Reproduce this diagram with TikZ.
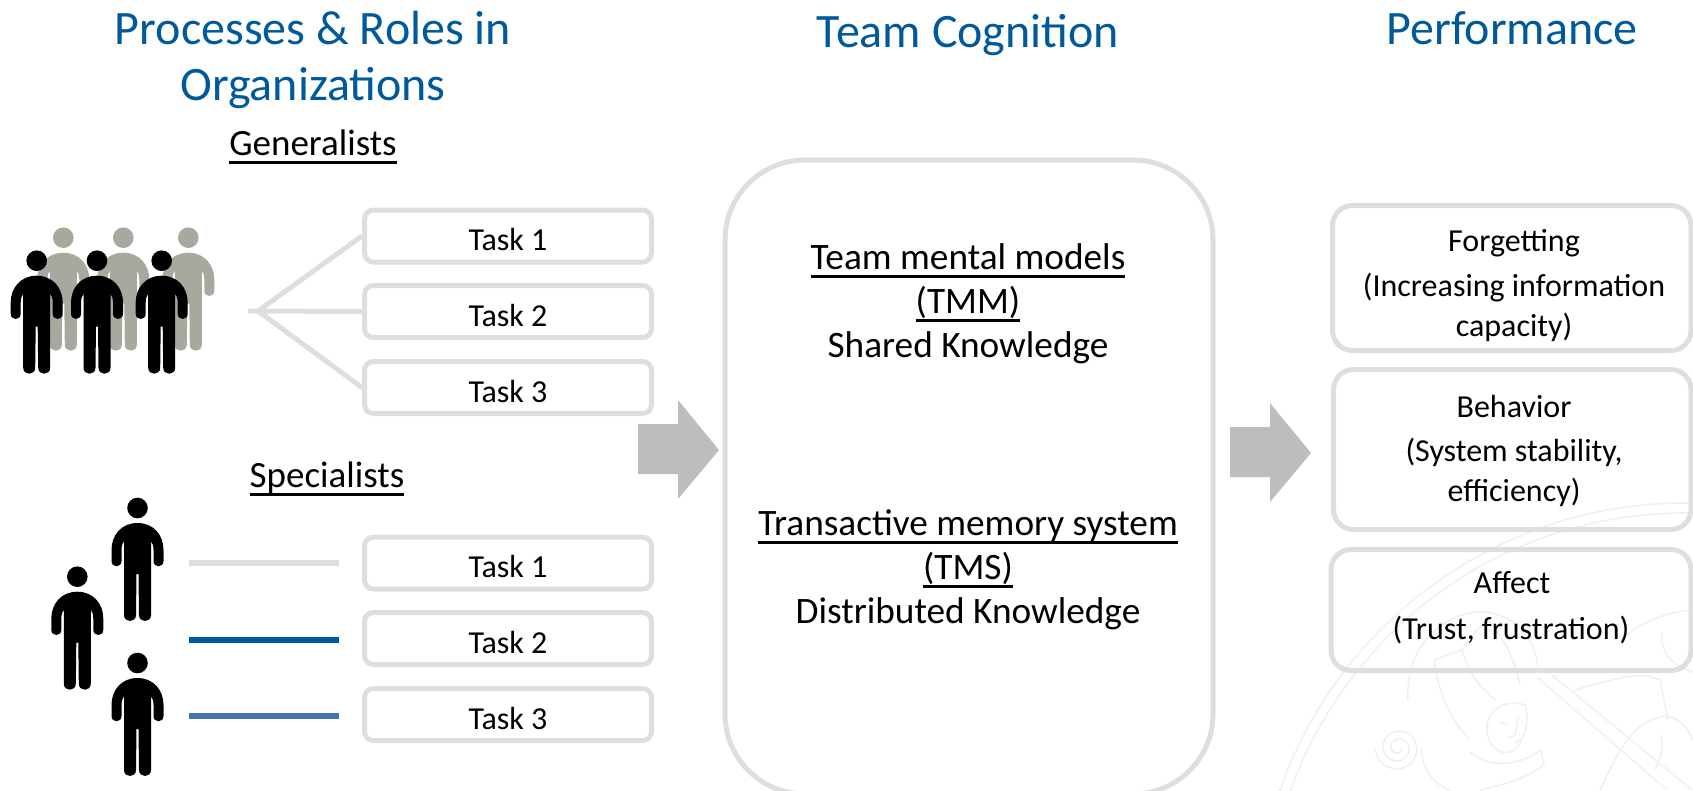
\documentclass[tikz,border=0pt]{standalone}
\usepackage{fontspec}
\setmainfont{Carlito}
\definecolor{uniblue}{HTML}{00599B}
\definecolor{midblue}{HTML}{4674AE}
\definecolor{boxgray}{HTML}{DEDEDE}
\definecolor{arrowgray}{HTML}{BDBDBD}
\definecolor{persongray}{HTML}{A9A89F}
\definecolor{seal}{HTML}{F0F0F0}
\newcommand{\ulx}[1]{\setbox0\hbox{#1}\rlap{\rule[-8pt]{\wd0}{2.5pt}}\box0}
\tikzset{
  title/.style={font=\fontsize{48}{58}\selectfont,text=uniblue,align=center,inner sep=0pt},
  taskbox/.style={draw=boxgray,line width=5pt,rounded corners=9pt,minimum width=287pt,minimum height=52pt,font=\fontsize{32}{38}\selectfont,inner sep=0pt,text height=29pt,text depth=0pt},
  sidebox/.style={draw=boxgray,line width=5pt,rounded corners=20pt},
  body/.style={font=\fontsize{32}{40}\selectfont,align=center,inner sep=0pt},
  head/.style={font=\fontsize{37}{44}\selectfont,align=center,inner sep=0pt},
  midtext/.style={font=\fontsize{37.3}{44}\selectfont,align=center,inner sep=0pt},
  link/.style={draw=boxgray,line width=5pt},
  bar/.style={line width=6pt},
  person/.pic={
    \fill (0,0) circle (10.3);
    \fill (0,15) .. controls (16,15) and (26,27) .. (26,42) -- (26,53)
      .. controls (26,60) and (16,60) .. (16,53) -- (16,42)
      .. controls (16,38) and (15,35) .. (13.5,33)
      -- (13.5,107) .. controls (13.5,115) and (1.5,115) .. (1.5,107) -- (1,66) -- (-1,66) -- (-1.5,107)
      .. controls (-1.5,115) and (-13.5,115) .. (-13.5,107) -- (-13.5,33)
      .. controls (-15,35) and (-16,38) .. (-16,42) -- (-16,53)
      .. controls (-16,60) and (-26,60) .. (-26,53) -- (-26,42)
      .. controls (-26,27) and (-16,15) .. (0,15) -- cycle;
  }
}
\begin{document}
\begin{tikzpicture}[x=1pt,y=-1pt]
\useasboundingbox (0,0) rectangle (1693,790);
\clip (0,0) rectangle (1693,790);
% faint seal
\begin{scope}[draw=seal,line width=1.6pt]
  \draw (1685,932) circle (429);
  \draw (1685,932) circle (419);
  % niche arches
  \draw (1408,700) .. controls (1405,640) and (1450,612) .. (1480,612) .. controls (1515,612) and (1537,640) .. (1538,670);
  \draw (1622,640) .. controls (1640,620) and (1670,612) .. (1693,610);
  % mitre
  \draw (1434,660) -- (1462,650) .. controls (1470,680) and (1485,690) .. (1495,700);
  \draw (1462,650) .. controls (1475,630) and (1480,625) .. (1490,622) .. controls (1505,640) and (1515,660) .. (1520,685);
  \draw (1434,660) .. controls (1438,690) and (1450,720) .. (1468,738);
  % crozier spiral and neck
  \draw plot[domain=0:900,samples=90,smooth] ({1398+(3+\x*0.022)*cos(\x)},{748+(3+\x*0.022)*sin(\x)});
  \draw (1421,748) .. controls (1422,770) and (1435,785) .. (1450,790);
  % face
  \draw (1487,725) .. controls (1490,705) and (1510,700) .. (1525,705) .. controls (1530,720) and (1525,745) .. (1510,752) .. controls (1498,755) and (1486,745) .. (1487,725);
  \draw (1500,722) -- (1507,725) (1518,718) -- (1515,735) -- (1508,738) (1515,743) -- (1522,739);
  % collar
  \draw (1470,752) .. controls (1490,770) and (1520,765) .. (1541,750) -- (1544,765) .. controls (1525,780) and (1500,785) .. (1480,790);
  % sword
  \draw (1537,677) -- (1667,790);
  \draw (1552,675) -- (1692,790);
  % right hand and figure
  \draw (1600,790) .. controls (1615,760) and (1630,720) .. (1665,716) .. controls (1685,718) and (1690,735) .. (1693,740);
  \draw (1660,735) .. controls (1665,745) and (1660,760) .. (1655,770);
  \draw (1575,690) .. controls (1610,680) and (1640,670) .. (1660,680) -- (1668,720);
  \draw (1662,632) .. controls (1660,650) and (1670,665) .. (1693,672);
\end{scope}
% titles
\node[title] (t1) at (313,28) {Processes \& Roles in};
\node[title] (t2) at (313,88) {Organizations};
\node[title] (t3) at (968,35) {Team Cognition};
\node[title] (t4) at (1512,28) {Performance};
% section heads
\node[head] (gen) at (313,147) {\ulx{Generalists}};
\node[head] (spec) at (327,479) {\ulx{Specialists}};
% generalist people
\foreach \x in {63.3,123.3,188.3} \pic[persongray] at (\x,237.7) {person};
\foreach \x in {36.7,97,161.7} \pic[black] at (\x,260.7) {person};
% generalist tasks
\node[taskbox] (g1) at (508,236) {Task 1};
\node[taskbox] (g2) at (508,311.5) {Task 2};
\node[taskbox] (g3) at (508,387.5) {Task 3};
\coordinate (apex) at (258,311);
\coordinate (tail) at (248,311);
\draw[link] (tail) -- (g2.west);
\draw[link] (apex) -- (g1.west);
\draw[link] (apex) -- (g3.west);
% specialists
\pic[black] at (137.5,508) {person};
\pic[black] at (77.3,576.7) {person};
\pic[black] at (137.5,663) {person};
\node[taskbox] (s1) at (508,563) {Task 1};
\node[taskbox] (s2) at (508,638.5) {Task 2};
\node[taskbox] (s3) at (508,714.5) {Task 3};
\coordinate (b1a) at (189,563); \coordinate (b1b) at (339,563);
\coordinate (b2a) at (189,640); \coordinate (b2b) at (339,640);
\coordinate (b3a) at (189,716); \coordinate (b3b) at (339,716);
\draw[bar,boxgray] (b1a) -- (b1b);
\draw[bar,uniblue] (b2a) -- (b2b);
\draw[bar,midblue] (b3a) -- (b3b);
% arrows
\fill[arrowgray] (638,424) -- (678,424) -- (678,400) -- (719,450) -- (678,499) -- (678,474) -- (638,474) -- cycle;
\fill[arrowgray] (1230,427) -- (1270,427) -- (1270,403) -- (1311,453) -- (1270,502) -- (1270,477) -- (1230,477) -- cycle;
% centre box
\draw[draw=boxgray,line width=5pt,rounded corners=80pt] (725,160) rectangle (1213,794);
\node[midtext] (tmm) at (968,304) {\ulx{Team mental models}\\\ulx{(TMM)}\\Shared Knowledge};
\node[midtext] (tms) at (968,570) {\ulx{Transactive memory system}\\\ulx{(TMS)}\\Distributed Knowledge};
% side boxes
\draw[sidebox] (1332.5,205.5) rectangle (1691,350.5);
\draw[sidebox] (1333.5,369.5) rectangle (1691,529.5);
\draw[sidebox] (1331,549.5) rectangle (1691,670.5);
\node[body] (f1) at (1514,243) {Forgetting};
\node[body] (f2) at (1514,307) {(Increasing information\\capacity)};
\node[body] (b1) at (1514,406) {Behavior};
\node[body] (b2) at (1514,472) {(System stability,\\efficiency)};
\node[body] (a1) at (1512,583) {Affect};
\node[body] (a2) at (1511,630) {(Trust, frustration)};
\end{tikzpicture}
\end{document}
